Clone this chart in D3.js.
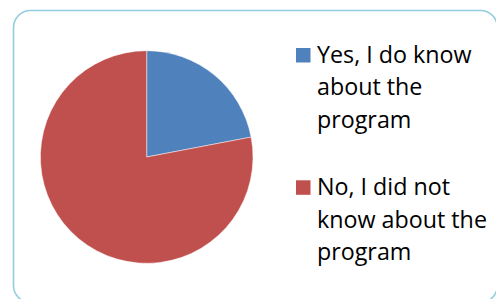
<!DOCTYPE html>
<html>
<head>
<meta charset="UTF-8">
<script src="https://cdn.jsdelivr.net/npm/d3@7"></script>
<style>
  body { margin: 0; background: #fff; }
  text { font-family: "Open Sans", sans-serif; }
</style>
</head>
<body>
<script>
// chart data
var categories = ["Yes, I do know about the program", "No, I did not know about the program"];
var values = [22, 78];
var colors = ["#4f81bd", "#c0504d"];
// legend labels, wrapped the way the original shows them
var legendLines = [["Yes, I do know", "about the", "program"],
                   ["No, I did not", "know about the", "program"]];

var W = 496, H = 299;
var svg = d3.select("body").append("svg")
    .attr("width", W)
    .attr("height", H);

// outer rounded frame
svg.append("rect")
    .attr("x", 13.5).attr("y", 10.5)
    .attr("width", 484).attr("height", 292)
    .attr("rx", 17).attr("ry", 17)
    .attr("fill", "#fff")
    .attr("stroke", "#93cddd")
    .attr("stroke-width", 1.6);

var cx = 146.7, cy = 157, r = 106.3;

var pie = d3.pie().sort(null).value(function(d) { return d; });
var arc = d3.arc().innerRadius(0).outerRadius(r);

svg.append("g")
    .attr("transform", "translate(" + cx + "," + cy + ")")
    .selectAll("path")
    .data(pie(values))
    .enter().append("path")
    .attr("d", arc)
    .attr("fill", function(d, i) { return colors[i]; })
    .attr("stroke", "#fff")
    .attr("stroke-opacity", 0.6)
    .attr("stroke-width", 0.8);

// legend
var legend = svg.append("g").attr("class", "legend");
var lineH = 32.8;
var entryTop = [48, 180.3];

// pick a font size so the widest line spans about as far as in the original
var probe = svg.append("text").attr("font-size", 20).text("know about the");
var fs = 20 * 170 / probe.node().getComputedTextLength();
probe.remove();

categories.forEach(function(c, i) {
    var g = legend.append("g");
    g.append("rect")
        .attr("x", 296).attr("y", entryTop[i])
        .attr("width", 14.5).attr("height", 14.5)
        .attr("fill", colors[i]);
    var t = g.append("text")
        .attr("x", 317)
        .attr("y", entryTop[i] + 14.5)
        .attr("font-size", fs)
        .attr("fill", "#000");
    legendLines[i].forEach(function(line, j) {
        t.append("tspan")
            .attr("x", 317)
            .attr("y", entryTop[i] + 14.5 + j * lineH)
            .text(line);
    });
});
</script>
</body>
</html>
